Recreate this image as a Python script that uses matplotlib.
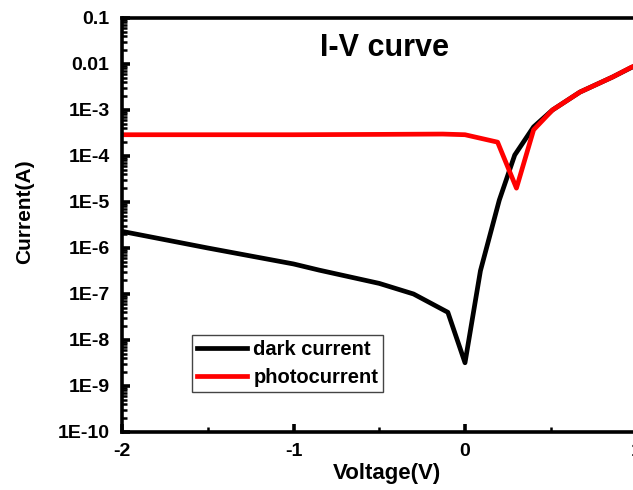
import matplotlib
matplotlib.use("Agg")
import matplotlib.pyplot as plt
from matplotlib.ticker import FixedLocator, FixedFormatter, LogLocator, NullFormatter, MultipleLocator

plt.rcParams['font.family'] = ['Liberation Sans', 'DejaVu Sans']

# Data
dark_v = [-2.0, -1.5, -1.0, -0.85, -0.5, -0.3, -0.1, 0.0, 0.09, 0.2, 0.29, 0.4, 0.51, 0.67, 0.86, 0.97, 1.0]
dark_i = [2.3e-6, 1.0e-6, 4.5e-7, 3.3e-7, 1.7e-7, 1.0e-7, 4.0e-8, 3.2e-9, 3.2e-7, 1.1e-5, 1.05e-4, 4.3e-4, 1.0e-3, 2.45e-3, 5.2e-3, 8.4e-3, 9.3e-3]

photo_v = [-2.0, -1.5, -1.0, -0.5, -0.13, 0.0, 0.19, 0.3, 0.4, 0.51, 0.67, 0.86, 0.97, 1.0]
photo_i = [2.9e-4, 2.9e-4, 2.9e-4, 2.95e-4, 3.0e-4, 2.9e-4, 2.0e-4, 2.0e-5, 3.7e-4, 1.0e-3, 2.45e-3, 5.2e-3, 8.5e-3, 9.5e-3]

y_ticks = [1e-10, 1e-9, 1e-8, 1e-7, 1e-6, 1e-5, 1e-4, 1e-3, 1e-2, 1e-1]
y_labels = ["1E-10", "1E-9", "1E-8", "1E-7", "1E-6", "1E-5", "1E-4", "1E-3", "0.01", "0.1"]
x_ticks = [-2, -1, 0, 1]
x_labels = ["-2", "-1", "0", "1"]

W, H = 633, 490
fig = plt.figure(figsize=(W / 100, H / 100), dpi=100)
left, right, top, bottom = 122, 636.5, 18, 432
ax = fig.add_axes([left / W, (H - bottom) / H, (right - left) / W, (bottom - top) / H])

ax.plot(dark_v, dark_i, color='black', lw=3.4, label='dark current', solid_joinstyle='round')
ax.plot(photo_v, photo_i, color='#ff0000', lw=3.4, label='photocurrent', solid_joinstyle='round')

ax.set_yscale('log')
ax.set_xlim(-2, 1)
ax.set_ylim(1e-10, 1e-1)
ax.yaxis.set_major_locator(FixedLocator(y_ticks))
ax.yaxis.set_major_formatter(FixedFormatter(y_labels))
ax.yaxis.set_minor_locator(LogLocator(base=10, subs=range(2, 10), numticks=20))
ax.yaxis.set_minor_formatter(NullFormatter())
ax.xaxis.set_major_locator(FixedLocator(x_ticks))
ax.xaxis.set_major_formatter(FixedFormatter(x_labels))
ax.xaxis.set_minor_locator(MultipleLocator(0.5))

for s in ax.spines.values():
    s.set_linewidth(2.6)

ax.tick_params(which='major', direction='in', length=6, width=2.6, labelsize=14)
ax.tick_params(axis='y', which='major', pad=9)
ax.tick_params(axis='x', which='major', pad=8)
ax.tick_params(which='minor', direction='in', length=3.5, width=1.8)
for lab in ax.get_xticklabels() + ax.get_yticklabels():
    lab.set_fontweight('bold')

ax.set_xlabel('Voltage(V)', fontsize=16, fontweight='bold')
ax.xaxis.set_label_coords((387 - left) / (right - left), -(463 - bottom) / (bottom - top))
ax.set_ylabel('Current(A)', fontsize=15, fontweight='bold')
ax.yaxis.set_label_coords(-(left - 34) / (right - left), (bottom - 212) / (bottom - top))

ax.text((385 - left) / (right - left), (bottom - 48) / (bottom - top), 'I-V curve',
        transform=ax.transAxes, ha='center', va='center', fontsize=22, fontweight='bold')

leg = ax.legend(loc='lower left', bbox_to_anchor=((192 - left) / (right - left), (bottom - 392) / (bottom - top)),
                borderaxespad=0, fancybox=False, frameon=True, edgecolor='#444444', framealpha=1,
                prop={'size': 14.5, 'weight': 'bold'}, handlelength=2.5, handletextpad=0.3,
                borderpad=0.25, labelspacing=0.45)
leg.get_frame().set_linewidth(1.0)

fig.savefig('out.png', dpi=100)
